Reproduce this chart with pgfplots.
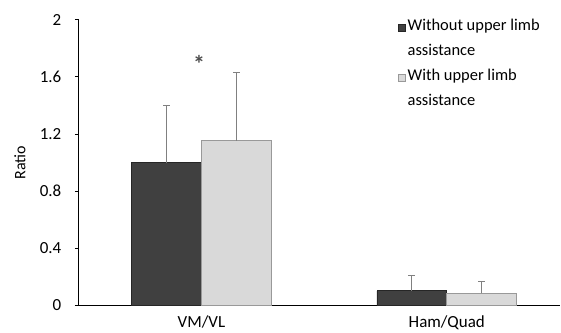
\documentclass[border=0pt]{standalone}
\usepackage{pgfplots}
\pgfplotsset{compat=1.18}
\usepackage{fontspec}
\setmainfont{Carlito}
\definecolor{darkbar}{HTML}{404040}
\definecolor{lightbar}{HTML}{D9D9D9}
\definecolor{errgray}{HTML}{808080}
\begin{document}
\begin{tikzpicture}
\begin{axis}[
  scale only axis, x=246bp, y=143bp,
  xmin=-0.5, xmax=1.463, ymin=0, ymax=2,
  axis x line=bottom, axis y line=left,
  axis line style={-, line width=1.3bp, black},
  x axis line style={shorten <=-4bp},
  ybar=0pt, bar width=70bp,
  xtick={0,1}, xticklabels={VM/VL,Ham/Quad},
  x tick style={draw=none},
  ytick={0,0.4,0.8,1.2,1.6,2},
  tick align=outside, major tick length=4bp,
  y tick style={line width=1bp, black},
  /pgf/number format/assume math mode=true,
  ticklabel style={font=\fontsize{17bp}{19bp}\selectfont},
  yticklabel style={xshift=-10bp},
  xticklabel style={yshift=-3bp},
  every axis y label/.style={at={(axis description cs:-0.122,0.5)}, rotate=90, anchor=center,
    font=\fontsize{16bp}{19bp}\selectfont},
  ylabel={Ratio},
  legend style={draw=none, fill=none, at={(0.656,1.017)}, anchor=north west,
    font=\fontsize{16.5bp}{25bp}\selectfont, cells={align=left, anchor=west},
    row sep=8bp},
  legend image code/.code={\draw[#1, line width=0.8bp] (0bp,6.5bp) rectangle (7bp,13.5bp);},
  error bars/y dir=plus, error bars/y explicit,
  error bars/error bar style={errgray, line width=1bp},
  error bars/error mark options={rotate=90, errgray, mark size=3.5bp, line width=1bp},
]
\addplot[fill=darkbar, draw=black!85, line width=0.8bp]
  coordinates {(0,1.00) +- (0,0.40) (1,0.10) +- (0,0.105)};
\addlegendentry{Without upper limb\\assistance}
\addplot[fill=lightbar, draw=black!40, line width=0.8bp]
  coordinates {(0,1.154) +- (0,0.476) (1,0.084) +- (0,0.079)};
\addlegendentry{With upper limb\\assistance}
\node[text=black!70, font=\fontsize{24bp}{26bp}\selectfont\bfseries] at (axis cs:-0.01,1.69) {*};
\end{axis}
\useasboundingbox (-79bp,-24bp) rectangle (482bp,306bp);
\end{tikzpicture}
\end{document}
